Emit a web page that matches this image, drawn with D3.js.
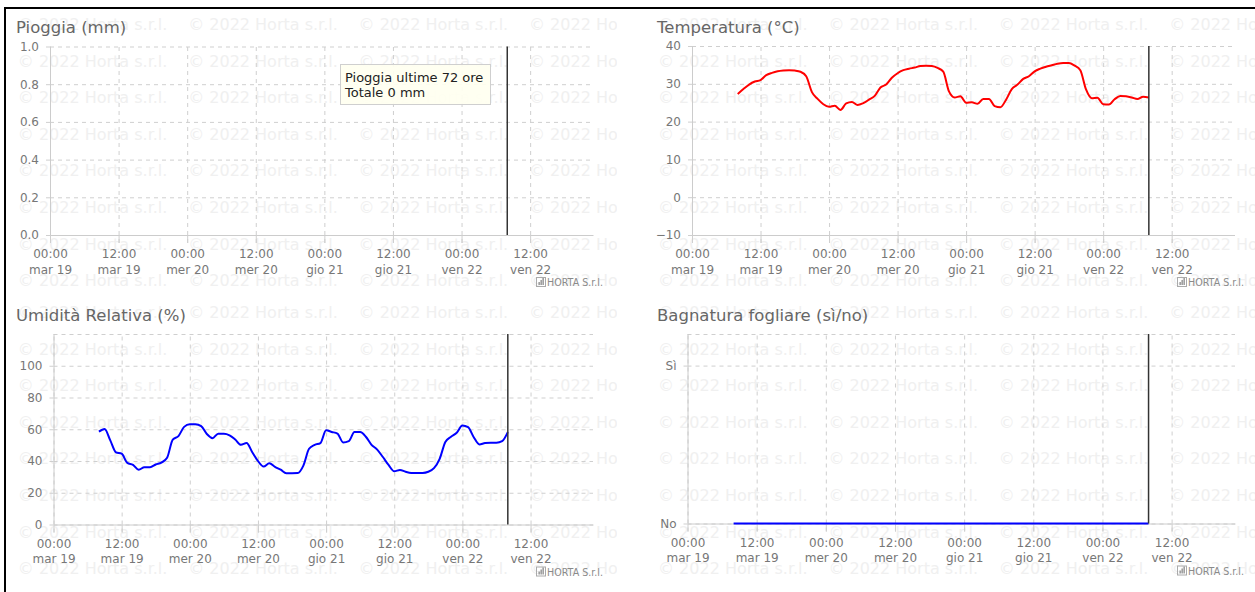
<!DOCTYPE html>
<html>
<head>
<meta charset="utf-8">
<script src="https://cdn.jsdelivr.net/npm/d3@7"></script>
<style>
  body { margin: 0; background: #fff; }
  svg { display: block; font-family: "DejaVu Sans", Verdana, sans-serif; }
</style>
</head>
<body>
<div id="chart"></div>
<script>

// hourly readings, mar 19 08:00 -> ven 22 08:00 (last 72 hours)
const startTime = new Date(Date.UTC(2022, 6, 19, 8));

const rain = [0, 0, 0, 0, 0, 0, 0, 0, 0, 0, 0, 0, 0, 0, 0, 0, 0, 0, 0, 0,
  0, 0, 0, 0, 0, 0, 0, 0, 0, 0, 0, 0, 0, 0, 0, 0, 0, 0, 0, 0,
  0, 0, 0, 0, 0, 0, 0, 0, 0, 0, 0, 0, 0, 0, 0, 0, 0, 0, 0, 0,
  0, 0, 0, 0, 0, 0, 0, 0, 0, 0, 0, 0, 0];

const temperature = [27.3, 28.6, 29.8, 30.6, 31.0, 32.3, 32.9, 33.3, 33.5, 33.6,
  33.5, 33.2, 32.0, 27.8, 26.0, 24.6, 23.9, 24.2, 23.1, 24.8,
  25.2, 24.4, 24.9, 25.8, 26.8, 29.0, 29.8, 31.6, 32.8, 33.6,
  34.0, 34.3, 34.7, 34.8, 34.7, 34.2, 33.2, 28.0, 26.4, 26.7,
  25.0, 25.1, 24.7, 26.0, 26.0, 24.1, 23.8, 25.8, 28.6, 29.8,
  31.3, 32.0, 33.3, 34.0, 34.5, 34.9, 35.3, 35.5, 35.5, 34.8,
  33.6, 28.5, 26.2, 26.3, 24.6, 24.5, 25.9, 26.8, 26.7, 26.4,
  26.0, 26.6, 26.4];

const humidity = [58.5, 60.2, 53.0, 45.5, 44.6, 38.8, 37.6, 34.5, 36.1, 36.1,
  37.8, 39.0, 42.0, 53.5, 55.7, 61.5, 63.2, 63.2, 62.0, 57.0,
  54.4, 57.2, 57.2, 56.2, 53.5, 50.2, 51.3, 45.5, 40.0, 36.5,
  38.6, 36.3, 34.5, 32.3, 32.3, 32.4, 37.1, 47.7, 50.2, 51.3,
  59.3, 58.3, 57.3, 51.7, 52.5, 58.2, 58.2, 55.3, 50.2, 47.2,
  42.5, 37.5, 33.5, 34.4, 33.2, 32.5, 32.5, 32.5, 33.2, 35.5,
  41.4, 52.0, 55.3, 57.8, 62.4, 61.3, 55.0, 50.4, 51.3, 51.5,
  51.5, 52.5, 58.2];

// leaf wetness: 0 = No, 1 = Sì
const wetness = [0, 0, 0, 0, 0, 0, 0, 0, 0, 0, 0, 0, 0, 0, 0, 0, 0, 0, 0, 0,
  0, 0, 0, 0, 0, 0, 0, 0, 0, 0, 0, 0, 0, 0, 0, 0, 0, 0, 0, 0,
  0, 0, 0, 0, 0, 0, 0, 0, 0, 0, 0, 0, 0, 0, 0, 0, 0, 0, 0, 0,
  0, 0, 0, 0, 0, 0, 0, 0, 0, 0, 0, 0, 0];

// x tick labels (every 12 hours from mar 19 00:00)
const tickHours = ["00:00", "12:00", "00:00", "12:00", "00:00", "12:00", "00:00", "12:00"];
const tickDays = ["mar 19", "mar 19", "mer 20", "mer 20", "gio 21", "gio 21", "ven 22", "ven 22"];

const rainTooltip = ["Pioggia ultime 72 ore", "Totale 0 mm"];

const width = 1255, height = 592;
const xStart = new Date(Date.UTC(2022, 6, 19, 0));
const xEnd = new Date(Date.UTC(2022, 6, 22, 23));
const times = temperature.map((d, i) => d3.utcHour.offset(startTime, i));
const tickTimes = tickHours.map((d, i) => d3.utcHour.offset(xStart, 12 * i));
const nowTime = d3.utcHour.offset(startTime, 72);

const svg = d3.select("#chart")
  .append("svg")
  .attr("width", width)
  .attr("height", height);

// page frame (only top and left edges are visible)
svg.append("path")
  .attr("d", `M5,${height} L5,8 L${width},8`)
  .attr("fill", "none")
  .attr("stroke", "#000")
  .attr("stroke-width", 2);

const panels = [
  { id: "rain", title: "Pioggia (mm)", values: rain, kind: "bar", color: "#3a6fd8",
    box: [5, 8, 612, 288], wmX: 17.8, titleX: 16, titleY: 33,
    left: 50, right: 593, top: 46.5, bottom: 235,
    yDomain: [0, 1], ticks: [0, 0.2, 0.4, 0.6, 0.8, 1.0], grid: [0, 0.2, 0.4, 0.6, 0.8, 1.0],
    fmt: d3.format(".1f"), logoX: 536 },
  { id: "temp", title: "Temperatura (°C)", values: temperature, kind: "line", color: "#ff0000",
    box: [641, 8, 614, 288], wmX: 658, titleX: 657, titleY: 33,
    left: 692, right: 1234.5, top: 46, bottom: 235,
    yDomain: [-10, 40], ticks: [-10, 0, 10, 20, 30, 40], grid: [-10, 0, 10, 20, 30, 40],
    fmt: d3.format("d"), logoX: 1177 },
  { id: "rh", title: "Umidità Relativa (%)", values: humidity, kind: "line", color: "#0000ff",
    box: [5, 296, 612, 296], wmX: 17.8, titleX: 16, titleY: 321,
    left: 53.5, right: 593, top: 334, bottom: 524.5,
    yDomain: [0, 120], ticks: [0, 20, 40, 60, 80, 100], grid: [0, 20, 40, 60, 80, 100, 120],
    fmt: d3.format("d"), logoX: 536 },
  { id: "wet", title: "Bagnatura fogliare (sì/no)", values: wetness, kind: "line", color: "#0000ff",
    box: [641, 296, 614, 296], wmX: 658, titleX: 657, titleY: 321,
    left: 687.5, right: 1235, top: 334, bottom: 523.5,
    yDomain: [0, 1.2], ticks: [0, 1], grid: [0, 1, 1.2],
    fmt: d => (d === 1 ? "Sì" : "No"), logoX: 1177 }
];

panels.forEach(drawPanel);

function drawPanel(p) {
  const [bx, by, bw, bh] = p.box;

  svg.append("clipPath")
    .attr("id", "clip-" + p.id)
    .append("rect")
    .attr("x", bx).attr("y", by)
    .attr("width", bw).attr("height", bh);

  // faint copyright watermark
  const wm = svg.append("g")
    .attr("clip-path", `url(#clip-${p.id})`)
    .attr("font-size", "16px")
    .attr("fill", "#f0f0f0");
  for (let r = 0; r < 8; r++) {
    for (let c = 0; c < 4; c++) {
      wm.append("text")
        .attr("x", p.wmX + c * 170.4)
        .attr("y", by + 22 + r * 36.6)
        .text("© 2022 Horta s.r.l.");
    }
  }

  const x = d3.scaleUtc()
    .domain([xStart, xEnd])
    .range([p.left, p.right]);

  const y = d3.scaleLinear()
    .domain(p.yDomain)
    .range([p.bottom, p.top]);

  const g = svg.append("g");

  // horizontal grid
  g.append("g")
    .attr("transform", `translate(${p.left},0)`)
    .call(d3.axisLeft(y).tickValues(p.grid).tickSize(-(p.right - p.left)).tickFormat(""))
    .call(a => a.select(".domain").remove())
    .selectAll("line")
      .attr("stroke", "#cfcfcf")
      .attr("stroke-dasharray", "4,4");

  // vertical grid
  g.append("g")
    .attr("transform", `translate(0,${p.bottom + 8})`)
    .call(d3.axisBottom(x).tickValues(tickTimes).tickSize(-(p.bottom + 8 - p.top)).tickFormat(""))
    .call(a => a.select(".domain").remove())
    .selectAll("line")
      .attr("stroke", "#cfcfcf")
      .attr("stroke-dasharray", "4,4");

  // y axis
  const yAxis = g.append("g")
    .attr("transform", `translate(${p.left},0)`)
    .call(d3.axisLeft(y).tickValues(p.ticks).tickSize(8).tickSizeOuter(0).tickPadding(3).tickFormat(p.fmt))
    .attr("font-family", null)
    .attr("font-size", "12px");
  yAxis.select(".domain")
    .attr("stroke", "#cccccc")
    .attr("d", `M0.5,${p.bottom}V${p.top}`);
  yAxis.selectAll(".tick line").attr("stroke", "#cfcfcf").attr("stroke-dasharray", "4,4");
  yAxis.selectAll(".tick text").attr("fill", "#777");

  // x axis, two line labels
  const xAxis = g.append("g")
    .attr("transform", `translate(0,${p.bottom})`)
    .call(d3.axisBottom(x).tickValues(tickTimes).tickSize(8).tickSizeOuter(0).tickPadding(6.5).tickFormat(""))
    .attr("font-family", null)
    .attr("font-size", "12px");
  xAxis.select(".domain").attr("stroke", "#cccccc");
  xAxis.selectAll(".tick line").attr("stroke", "#cfcfcf");
  xAxis.selectAll(".tick text")
    .attr("fill", "#777")
    .attr("dy", null)
    .each(function(d, i) {
      const t = d3.select(this);
      t.append("tspan").attr("x", 0).attr("dy", "0.71em").text(tickHours[i]);
      t.append("tspan").attr("x", 0).attr("dy", "15.6").text(tickDays[i]);
    });

  // series
  if (p.kind === "bar") {
    g.selectAll(".bar")
      .data(p.values)
      .enter()
      .append("rect")
        .attr("class", "bar")
        .attr("x", (d, i) => x(times[i]) - 2)
        .attr("width", 4)
        .attr("y", d => y(d))
        .attr("height", d => y(0) - y(d))
        .attr("fill", p.color);
  } else {
    const line = d3.line()
      .x((d, i) => x(times[i]))
      .y(d => y(d))
      .curve(d3.curveMonotoneX);
    g.append("path")
      .datum(p.values)
      .attr("d", line)
      .attr("fill", "none")
      .attr("stroke", p.color)
      .attr("stroke-width", 2)
      .attr("stroke-linejoin", "round");
  }

  // current time marker
  g.append("line")
    .attr("x1", x(nowTime)).attr("x2", x(nowTime))
    .attr("y1", p.top).attr("y2", p.bottom)
    .attr("stroke", "#333")
    .attr("stroke-width", 1.5);

  // title
  g.append("text")
    .attr("x", p.titleX)
    .attr("y", p.titleY)
    .attr("font-size", "16.5px")
    .attr("fill", "#666")
    .text(p.title);

  // small credit logo
  const logo = g.append("g")
    .attr("transform", `translate(${p.logoX},${p.bottom + 51})`)
    .attr("fill", "#8a8a8a");
  logo.append("rect")
    .attr("x", 0.5).attr("y", -8.5).attr("width", 9).attr("height", 9)
    .attr("fill", "none").attr("stroke", "#aaa");
  [[2.5, 3], [4.5, 5], [6.5, 7]].forEach(([bxx, bhh]) => {
    logo.append("rect").attr("x", bxx).attr("y", -1 - bhh).attr("width", 1.3).attr("height", bhh);
  });
  logo.append("text")
    .attr("x", 11)
    .attr("y", 0)
    .attr("font-size", "10.5px")
    .attr("textLength", 56)
    .attr("lengthAdjust", "spacingAndGlyphs")
    .text("HORTA S.r.l.");

  // rain summary box
  if (p.id === "rain") {
    g.append("rect")
      .attr("x", 340.5).attr("y", 64.5)
      .attr("width", 150).attr("height", 40)
      .attr("fill", "#fffff0")
      .attr("fill-opacity", 0.92)
      .attr("stroke", "#cfcfcf");
    rainTooltip.forEach((s, i) => {
      g.append("text")
        .attr("x", 345)
        .attr("y", 81.5 + i * 15)
        .attr("font-size", "13px")
        .attr("fill", "#222")
        .text(s);
    });
  }
}

</script>
</body>
</html>
